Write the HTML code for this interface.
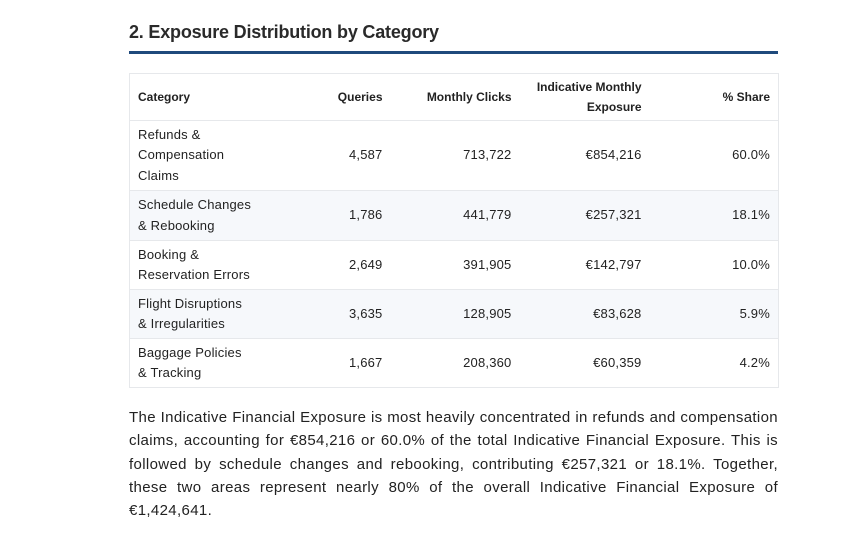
<!DOCTYPE html>
<html><head><meta charset="utf-8">
<style>
body{margin:0;width:858px;height:543px;background:#fff;font-family:"Liberation Sans",sans-serif;color:#222;position:relative;overflow:hidden}
h2{position:absolute;left:129px;top:22px;margin:0;font-size:18px;font-weight:bold;color:#2a2a2a;letter-spacing:-0.2px}
.rule{position:absolute;left:129px;top:51px;width:649px;height:3px;background:#1f4a7c}
table{position:absolute;left:129px;top:73px;border-collapse:collapse;table-layout:fixed;width:649px;font-size:13px;letter-spacing:0.2px}
td,th{padding:0 8px;border-bottom:1px solid #e6e8eb;vertical-align:middle;line-height:20.5px}
th{font-size:12px;font-weight:bold;height:46px;border-top:1px solid #e6e8eb;color:#222;letter-spacing:0}
th:first-child,td:first-child{text-align:left;border-left:1px solid #e6e8eb}
td:first-child{white-space:nowrap}
th:last-child,td:last-child{border-right:1px solid #e6e8eb}
th,td{text-align:right}
tr.alt td{background:#f6f8fb}
p{position:absolute;left:129px;top:406px;width:649px;margin:0;font-size:15px;line-height:23.3px;text-align:justify;color:#222;letter-spacing:0.35px}
</style></head><body>
<h2>2. Exposure Distribution by Category</h2>
<div class="rule"></div>
<table>
<colgroup><col style="width:131px"><col style="width:130px"><col style="width:129px"><col style="width:130px"><col style="width:129px"></colgroup>
<tr><th>Category</th><th>Queries</th><th>Monthly Clicks</th><th>Indicative Monthly Exposure</th><th>% Share</th></tr>
<tr style="height:70px"><td>Refunds &amp;<br>Compensation<br>Claims</td><td>4,587</td><td>713,722</td><td>€854,216</td><td>60.0%</td></tr>
<tr class="alt" style="height:50px"><td>Schedule Changes<br>&amp; Rebooking</td><td>1,786</td><td>441,779</td><td>€257,321</td><td>18.1%</td></tr>
<tr style="height:49px"><td>Booking &amp;<br>Reservation Errors</td><td>2,649</td><td>391,905</td><td>€142,797</td><td>10.0%</td></tr>
<tr class="alt" style="height:49px"><td>Flight Disruptions<br>&amp; Irregularities</td><td>3,635</td><td>128,905</td><td>€83,628</td><td>5.9%</td></tr>
<tr style="height:49px"><td>Baggage Policies<br>&amp; Tracking</td><td>1,667</td><td>208,360</td><td>€60,359</td><td>4.2%</td></tr>
</table>
<p>The Indicative Financial Exposure is most heavily concentrated in refunds and compensation claims, accounting for €854,216 or 60.0% of the total Indicative Financial Exposure. This is followed by schedule changes and rebooking, contributing €257,321 or 18.1%. Together, these two areas represent nearly 80% of the overall Indicative Financial Exposure of €1,424,641.</p>
</body></html>
